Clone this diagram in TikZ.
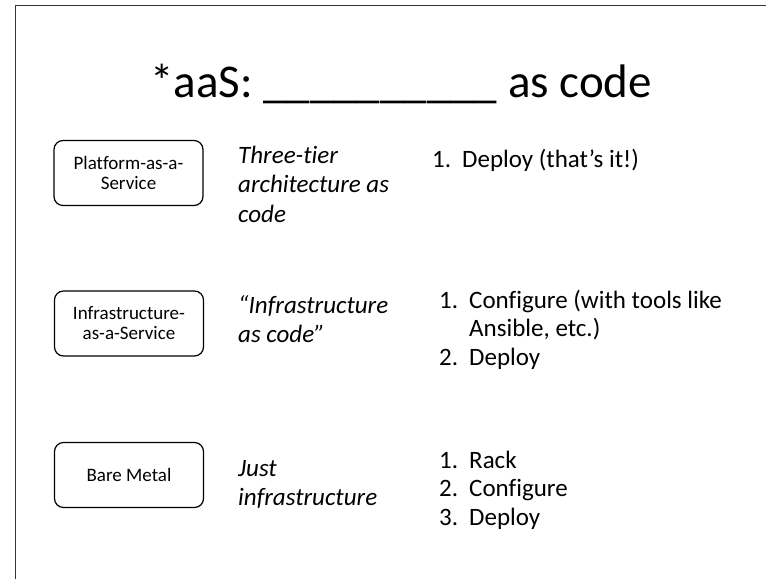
\documentclass[tikz,border=0pt]{standalone}
\usepackage{fontspec}
\setmainfont{Carlito}[Ligatures=NoCommon]

% hanging numbers for the step lists
\newcommand{\stepno}[1]{\makebox[30pt][l]{#1}}
\newcommand{\stepin}{\hspace*{30pt}}

\begin{document}
\begin{tikzpicture}[x=1pt,y=-1pt,
    service/.style={draw, line width=1.2pt, rounded corners=9pt,
      minimum width=149pt, minimum height=65pt, inner sep=0pt,
      align=center, font=\fontsize{19}{20}\selectfont},
    idea/.style={anchor=base west, text width=170pt, align=flush left, inner sep=0pt,
      font=\fontsize{25}{29.5}\selectfont\itshape},
    steps/.style={anchor=base west, text width=300pt, align=flush left, inner sep=0pt,
      font=\fontsize{25}{28.5}\selectfont}]

  \useasboundingbox (0,0) rectangle (766,579);

  % slide edges
  \draw[line width=0.8pt, black!80] (15,579) -- (15,5) -- (766,5);

  % title
  \node[anchor=base, font=\fontsize{47}{56}\selectfont] (title) at (401,97)
    {*aaS: \_\_\_\_\_\_\_\_\_\_ as code};

  % the three layers, top to bottom
  \node[service] (paas)  at (128.5,173)   {Platform-as-a-\\Service};
  \node[service] (iaas)  at (129,323.5)   {Infrastructure-\\as-a-Service};
  \node[service] (metal) at (129,475)     {Bare Metal};

  % what is code on each layer
  \node[idea] (paascode)  at (238,163) {Three-tier\\architecture as\\code};
  \node[idea] (iaascode)  at (238,313) {“Infrastructure\\as code”};
  \node[idea] (metalcode) at (238,476) {Just\\infrastructure};

  % what is left to do
  \node[steps] (paassteps)  at (432,167)
    {\stepno{1.}Deploy (that’s it!)};
  \node[steps] (iaassteps)  at (439,308)
    {\stepno{1.}Configure (with tools like\\\stepin Ansible, etc.)\\\stepno{2.}Deploy};
  \node[steps] (metalsteps) at (439,468)
    {\stepno{1.}Rack\\\stepno{2.}Configure\\\stepno{3.}Deploy};

\end{tikzpicture}
\end{document}
